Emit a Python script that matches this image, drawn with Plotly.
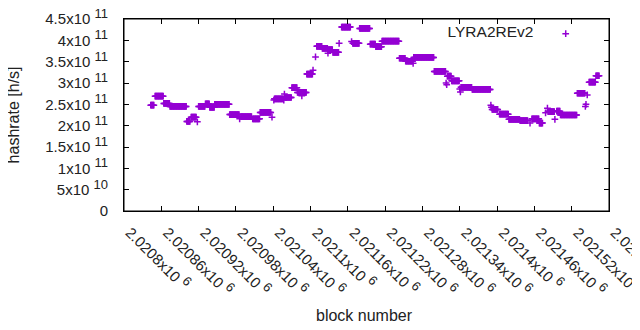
import plotly.graph_objects as go

# Runs of constant hashrate: first block, last block, value (x1e11 h/s)
run_start = [2020843, 2020850, 2020864, 2020874, 2020901, 2020908, 2020918, 2020920, 2020931, 2020938,
             2020946, 2020970, 2020986, 2020988, 2021007, 2021019, 2021038, 2021041, 2021042, 2021057,
             2021058, 2021059, 2021070, 2021079, 2021086, 2021094, 2021104, 2021108, 2021110, 2021119,
             2021128, 2021128, 2021136, 2021146, 2021150, 2021166, 2021168, 2021179, 2021196, 2021205,
             2021215, 2021243, 2021253, 2021265, 2021266, 2021299, 2021318, 2021319, 2021320, 2021327,
             2021340, 2021341, 2021342, 2021360, 2021390, 2021391, 2021392, 2021404, 2021419, 2021437,
             2021453, 2021456, 2021468, 2021478, 2021481, 2021482, 2021493, 2021496, 2021502, 2021529,
             2021542, 2021543, 2021545, 2021548, 2021559]
run_end = [2020848, 2020863, 2020873, 2020900, 2020906, 2020916, 2020918, 2020930, 2020937, 2020945,
           2020969, 2020985, 2020986, 2021005, 2021018, 2021036, 2021038, 2021041, 2021056, 2021057,
           2021058, 2021069, 2021078, 2021093, 2021086, 2021103, 2021104, 2021108, 2021118, 2021127,
           2021135, 2021128, 2021145, 2021146, 2021164, 2021166, 2021178, 2021195, 2021204, 2021214,
           2021242, 2021252, 2021264, 2021265, 2021298, 2021317, 2021318, 2021319, 2021326, 2021339,
           2021340, 2021341, 2021359, 2021389, 2021390, 2021391, 2021401, 2021418, 2021436, 2021449,
           2021453, 2021467, 2021473, 2021478, 2021481, 2021492, 2021493, 2021501, 2021528, 2021541,
           2021542, 2021543, 2021545, 2021558, 2021564]
run_value = [2.48, 2.69, 2.52, 2.45, 2.10, 2.20, 2.09, 2.45, 2.51, 2.43,
             2.50, 2.26, 2.16, 2.21, 2.16, 2.31, 2.20, 2.60, 2.63, 2.60,
             2.74, 2.66, 2.89, 2.78, 2.70, 3.21, 3.30, 3.61, 3.86, 3.81,
             3.78, 3.70, 3.72, 3.93, 4.31, 3.97, 3.93, 4.28, 3.91, 3.85,
             3.98, 3.58, 3.51, 3.46, 3.60, 3.27, 3.00, 2.96, 3.16, 3.05,
             2.86, 2.79, 2.90, 2.85, 2.48, 2.43, 2.38, 2.27, 2.15, 2.12,
             2.06, 2.16, 2.06, 2.30, 2.41, 2.33, 2.15, 2.34, 2.25, 2.76,
             2.45, 2.50, 2.72, 3.02, 3.17]

x_tick_vals = [2020800, 2020860, 2020920, 2020980, 2021040, 2021100, 2021160,
               2021220, 2021280, 2021340, 2021400, 2021460, 2021520, 2021580]
x_tick_mant = ["2.0208", "2.02086", "2.02092", "2.02098", "2.02104", "2.0211", "2.02116",
               "2.02122", "2.02128", "2.02134", "2.0214", "2.02146", "2.02152", "2.02158"]
y_tick_vals = [0, 5e10, 1e11, 1.5e11, 2e11, 2.5e11, 3e11, 3.5e11, 4e11, 4.5e11]
y_tick_mant = ["0", "5", "1", "1.5", "2", "2.5", "3", "3.5", "4", "4.5"]
y_tick_exp = ["", "10", "11", "11", "11", "11", "11", "11", "11", "11"]

series_name = "LYRA2REv2"
color = "#9400D3"


def sci(m, e):
    if not e:
        return m
    return m + "x10 <sup><span style=\"font-size:13px\">" + e + "</span></sup>"


blocks = []
hashrate = []
for s, e, v in zip(run_start, run_end, run_value):
    for b in range(s, e + 1):
        blocks.append(b)
        hashrate.append(v * 1e11)

FONT = "Liberation Sans, Arial, sans-serif"

fig = go.Figure()
fig.add_trace(go.Scatter(
    x=blocks, y=hashrate, mode="markers", name="",
    marker=dict(symbol="cross-thin", size=4.8, color=color,
                line=dict(color=color, width=1.5)),
    showlegend=True,
))

axis_common = dict(showline=True, linecolor="#000000", linewidth=1, mirror="ticks",
                   ticks="inside", ticklen=5, tickcolor="#000000", tickwidth=1,
                   showgrid=False, zeroline=False, automargin=False,
                   ticklabeloverflow="allow",
                   tickfont=dict(family=FONT, size=15, color="#222"))

# the page body adds an 8px offset, so the figure is drawn 8px smaller at top/left
fig.update_layout(
    template="none",
    width=632, height=322,
    margin=dict(l=116, r=31, t=11, b=119, autoexpand=False),
    paper_bgcolor="white", plot_bgcolor="white",
    font=dict(family=FONT, size=15, color="#222"),
    xaxis=dict(range=[x_tick_vals[0], x_tick_vals[-1]], tickvals=x_tick_vals,
               ticktext=["\u00a0\u00a0" + sci(m, "6") for m in x_tick_mant],
               tickangle=45, ticklabelstandoff=0, **axis_common),
    yaxis=dict(range=[0, 4.5e11], tickvals=y_tick_vals,
               ticktext=[sci(m, e) for m, e in zip(y_tick_mant, y_tick_exp)],
               ticklabelstandoff=12, **axis_common),
    showlegend=True,
    legend=dict(title=dict(text=series_name + "\u00a0", side="left", font=dict(size=15.5)),
                x=0.964, y=1.01, xanchor="right", yanchor="top",
                bgcolor="rgba(0,0,0,0)", font=dict(size=15.5)),
    shapes=[dict(type="rect", xref="paper", yref="paper", x0=0, x1=1, y0=0, y1=1,
                 line=dict(color="#000000", width=1), fillcolor="rgba(0,0,0,0)", layer="above")],
    annotations=[
        dict(text="hashrate [h/s]", xref="paper", yref="paper", x=-0.228, y=0.5,
             showarrow=False, textangle=-90, font=dict(size=16),
             xanchor="center", yanchor="middle"),
        dict(text="block number", xref="paper", yref="paper", x=0.495, y=-0.542,
             showarrow=False, font=dict(size=16), xanchor="center", yanchor="middle"),
    ],
)

fig.write_html("out.html")
